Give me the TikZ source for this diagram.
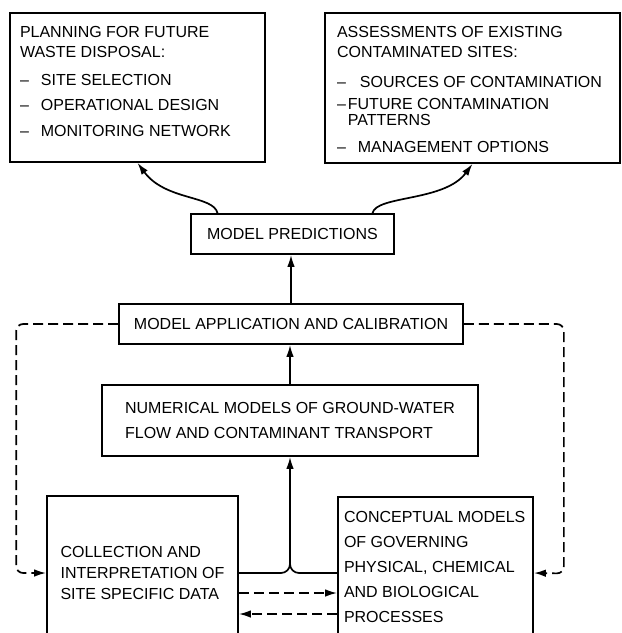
\documentclass[tikz,border=0pt]{standalone}
\usepackage{fontspec}
\setmainfont{Liberation Sans}
\usetikzlibrary{positioning, arrows.meta}
\tikzset{
    auto, node distance = 1cm and 1cm,% boxes are placed at coordinates, text blocks relative to their box
}

\begin{document}
\begin{tikzpicture}[x=1pt, y=1pt, line width=1.7pt
        ,every node/.style ={font=\fontsize{16}{20}\selectfont},
        box/.style ={rectangle, draw, inner sep=0pt},
        txt/.style ={align=left, inner sep=0pt},
        flow/.style ={-{Latex[length=12pt,width=7.5pt]}},
        flowdash/.style ={flow, dash pattern=on 10pt off 5pt, rounded corners=7pt},]
            \useasboundingbox (0,0) rectangle (622,-633);
            \clip (0,0) rectangle (622,-633);
            % the two goal boxes at the top
            \node[box, minimum width=255pt, minimum height=149pt] (plan) at (137.5,-87.5) {};
            \node[txt, below right=13pt and 10pt of plan.north west] (plantxt) {PLANNING FOR FUTURE\\
                WASTE DISPOSAL:\\[8pt]
                \textendash\hspace{12pt}SITE SELECTION\\[5pt]
                \textendash\hspace{12pt}OPERATIONAL DESIGN\\[6pt]
                \textendash\hspace{12pt}MONITORING NETWORK};
            \node[box, minimum width=295pt, minimum height=150pt] (assess) at (472.5,-88) {};
            \node[txt, below right=13pt and 12pt of assess.north west] (assesstxt) {ASSESSMENTS OF EXISTING\\
                CONTAMINATED SITES:\\[10pt]
                \textendash\hspace{14pt}SOURCES OF CONTAMINATION\\[2pt]
                \textendash\hspace{2pt}FUTURE CONTAMINATION\\[-4pt]
                \hphantom{\textendash}\hspace{2pt}PATTERNS\\[7pt]
                \textendash\hspace{12pt}MANAGEMENT OPTIONS};
            % the modelling chain
            \node[box, minimum width=203pt, minimum height=40pt] (pred) at (292.5,-234) {MODEL PREDICTIONS};
            \node[box, minimum width=344pt, minimum height=40pt] (app) at (291,-324) {MODEL APPLICATION AND CALIBRATION};
            \node[box, minimum width=376pt, minimum height=71pt, align=left] (num) at (290,-420.5) {NUMERICAL MODELS OF GROUND-WATER\\[5pt]
                FLOW AND CONTAMINANT TRANSPORT};
            \node[box, minimum width=191pt, minimum height=154pt, align=left] (collect) at (142.5,-573) {COLLECTION AND\\[1pt]
                INTERPRETATION OF\\[1pt]
                SITE SPECIFIC DATA};
            \node[box, minimum width=195pt, minimum height=153pt] (concept) at (435.5,-573.5) {};
            \node[txt, below right=14pt and 6pt of concept.north west] (concepttxt) {CONCEPTUAL MODELS\\[5pt]
                OF GOVERNING\\[5pt]
                PHYSICAL, CHEMICAL\\[5pt]
                AND BIOLOGICAL\\[5pt]
                PROCESSES};
            \coordinate (join) at (num.south |- collect.east);
            \draw[flow] ([xshift=-75pt]pred.north) .. controls +(-4,18) and +(28,-38) .. (plan.south);
            \draw[flow] ([xshift=80pt]pred.north) .. controls +(4,18) and +(-28,-38) .. (assess.south);
            \draw[flow] (app.north) -- (app.north |- pred.south);
            \draw[flow] (num.north) -- (num.north |- app.south);
            \draw (collect.east) -- ([xshift=-9pt]join) to[out=0,in=-90] ([yshift=9pt]join);
            \draw (collect.east -| concept.west) -- ([xshift=9pt]join) to[out=180,in=-90] ([yshift=9pt]join);
            \draw[flow] ([yshift=9pt]join) -- (num.south);
            \draw[flowdash] ([yshift=-20pt]collect.east) -- ([yshift=-20pt]collect.east -| concept.west);
            \draw[flowdash] ([yshift=-41pt]collect.east -| concept.west) -- ([yshift=-41pt]collect.east);
            \draw[flowdash] (app.west) -| ([xshift=-30pt]collect.west) -- (collect.west);
            \draw[flowdash] (app.east) -| ([xshift=30pt]concept.east) -- (concept.east |- collect.east);
        \end{tikzpicture}
\end{document}
